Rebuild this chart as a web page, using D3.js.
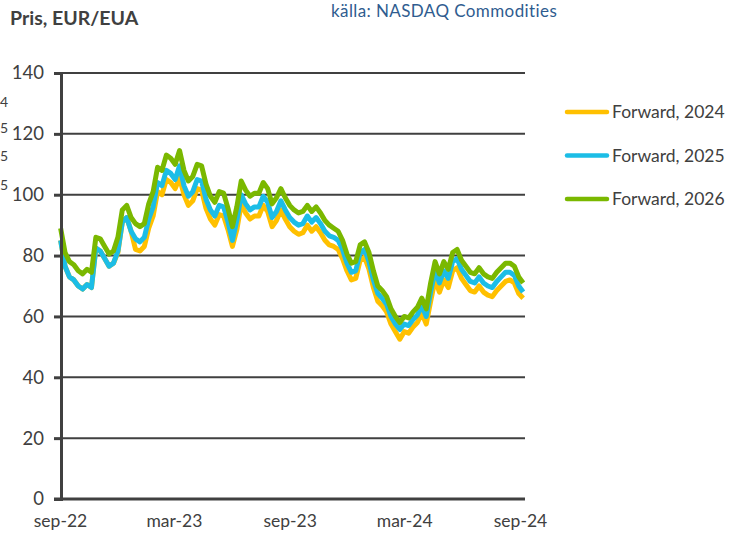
<!DOCTYPE html>
<html>
<head>
<meta charset="utf-8">
<script src="https://cdn.jsdelivr.net/npm/d3@7"></script>
<style>
  body { margin: 0; background: #fff; }
  svg { display: block; font-family: Lato, "Open Sans", sans-serif; }
</style>
</head>
<body>
<svg></svg>
<script>
const width = 734;
const height = 534;

// weekly observations, first one 2 Sep 2022
const startDate = new Date(2022, 8, 2);

const fwd2026 = [89, 81, 78, 77, 75, 74, 75.5, 74.5, 86, 85.5,
  83, 80.5, 81.5, 86, 95, 96.5, 92.5, 90.5, 89.5, 90.5,
  97, 101, 109, 108, 113, 112, 110, 114.5, 108, 104.5,
  106, 110, 109.5, 103.5, 99.5, 97.5, 101, 100.5, 95.5, 89.5,
  96, 104.5, 101.5, 99.5, 100.5, 100.5, 104, 102, 97, 99,
  102, 99, 96.5, 95, 94, 94.5, 96.5, 94.5, 96, 94,
  91.5, 90, 89, 88, 85, 80.5, 77.5, 78, 83.5, 84.5,
  81, 75, 70, 68.5, 66.5, 62.5, 60, 58, 60, 59.5,
  61.5, 63, 66, 62.5, 71, 78, 74, 78, 75.5, 81,
  82, 78.5, 76.5, 74.5, 74, 76, 74, 73, 72.5, 74.5,
  76, 77.5, 77.5, 76.5, 73, 71];

const fwd2025 = [85, 76.5, 73, 72, 70, 69, 70.5, 69.5, 82.5, 81.5,
  79, 76.5, 77.5, 81.5, 91, 92.5, 88, 85.5, 84.5, 86,
  92, 96, 104, 103, 108, 107, 105, 109.5, 103, 99.5,
  101, 105, 104.5, 98.5, 95, 93, 96.5, 96, 91, 85,
  91.5, 100, 97, 95, 96, 96, 99.5, 97.5, 92.5, 94.5,
  98, 95, 92.5, 91, 90, 90.5, 93, 91, 92.5, 90.5,
  88, 86.5, 86, 85, 82, 77.5, 74.5, 75, 81, 82,
  78, 72, 67.5, 66, 64, 60, 57.5, 55.7, 57.5, 57,
  59, 60.5, 63.5, 60, 68, 75, 71, 75, 72.5, 78,
  79, 75.5, 73.5, 71.5, 71, 73, 71, 70, 69.5, 71.5,
  73, 74.5, 74.5, 73.5, 70, 68];

const fwd2024 = [85, 76.5, 73, 72, 70, 69, 70.5, 69.5, 82.5, 81.5,
  79, 76.5, 77.5, 81, 91, 92.5, 88, 82, 81.5, 83,
  89, 93, 101, 100, 105, 104, 102, 105.5, 100, 96.5,
  98, 102, 101.5, 95.5, 92, 90, 93.5, 93, 88.5, 83,
  88.5, 97, 94, 92, 93, 93, 96.5, 94.5, 89.5, 91.5,
  95, 92, 89.5, 88, 87, 87.5, 90, 88, 89.5, 87.5,
  85, 83.5, 83, 82, 79, 75, 72, 72.5, 78.5, 79.5,
  75.5, 69.5, 65, 63.5, 61.5, 57.5, 55, 52.5, 55, 54.5,
  56.5, 58, 61, 57.5, 65, 72, 68, 72, 69.5, 75,
  76, 72.5, 70.5, 68.5, 68, 70, 68, 67, 66.5, 68.5,
  70, 71.5, 72, 71, 67.5, 66];

const seriesNames = ["Forward, 2024", "Forward, 2025", "Forward, 2026"];
const seriesColors = ["#FFC000", "#1CBDE6", "#7AB800"];

const xTickDates = [new Date(2022, 8, 1), new Date(2023, 2, 1), new Date(2023, 8, 1),
  new Date(2024, 2, 1), new Date(2024, 8, 1)];
const xTickLabels = ["sep-22", "mar-23", "sep-23", "mar-24", "sep-24"];
const yTicks = [0, 20, 40, 60, 80, 100, 120, 140];

const dates = fwd2026.map((d, i) => d3.timeWeek.offset(startDate, i));
const allSeries = [fwd2024, fwd2025, fwd2026];

const plotLeft = 61, plotRight = 525, plotTop = 73, plotBottom = 499;
const ink = "#404040";

const svg = d3.select("svg")
  .attr("width", width)
  .attr("height", height);

const xScale = d3.scaleTime()
  .domain([xTickDates[0], xTickDates[4]])
  .range([60, 520]);

const yScale = d3.scaleLinear()
  .domain([0, 140])
  .range([plotBottom, plotTop]);

// gridlines
svg.append("g")
  .selectAll("line")
  .data(yTicks.filter(d => d > 0))
  .enter()
  .append("line")
  .attr("x1", plotLeft)
  .attr("x2", plotRight)
  .attr("y1", d => yScale(d))
  .attr("y2", d => yScale(d))
  .attr("stroke", ink)
  .attr("stroke-width", 2);

// series
const line = d3.line()
  .x((d, i) => xScale(dates[i]))
  .y(d => yScale(d));

svg.append("g")
  .selectAll("path")
  .data(allSeries)
  .enter()
  .append("path")
  .attr("d", d => line(d))
  .attr("fill", "none")
  .attr("stroke", (d, i) => seriesColors[i])
  .attr("stroke-width", 5)
  .attr("stroke-linejoin", "round");

// y axis
const yAxis = d3.axisLeft(yScale)
  .tickValues(yTicks)
  .tickSize(7)
  .tickPadding(10);

const yg = svg.append("g")
  .attr("transform", `translate(${plotLeft},0)`)
  .call(yAxis);
yg.select(".domain").attr("stroke", ink).attr("stroke-width", 3);
yg.selectAll(".tick line").attr("stroke", ink).attr("stroke-width", 3);
yg.selectAll("text")
  .attr("fill", ink)
  .style("font-size", "18.5px")
  .style("font-family", "Lato, sans-serif");

// x axis
svg.append("line")
  .attr("x1", 54)
  .attr("x2", plotRight)
  .attr("y1", plotBottom)
  .attr("y2", plotBottom)
  .attr("stroke", ink)
  .attr("stroke-width", 3);

const xAxis = d3.axisBottom(xScale)
  .tickValues(xTickDates)
  .tickFormat((d, i) => xTickLabels[i])
  .tickSize(0)
  .tickPadding(16);

const xg = svg.append("g")
  .attr("transform", `translate(0,${plotBottom})`)
  .call(xAxis);
xg.select(".domain").remove();
xg.selectAll("text")
  .attr("fill", ink)
  .style("font-size", "17.5px")
  .style("font-family", "Lato, sans-serif");

// title and source
svg.append("text")
  .attr("x", 10)
  .attr("y", 25)
  .attr("fill", ink)
  .style("font-size", "19.5px")
  .style("font-weight", "bold")
  .text("Pris, EUR/EUA");

svg.append("text")
  .attr("x", 331)
  .attr("y", 17)
  .attr("fill", "#2F5C8F")
  .style("font-size", "17px")
  .style("letter-spacing", "0.4px")
  .text("källa: NASDAQ Commodities");

// clipped labels at the left edge
svg.append("g")
  .selectAll("text")
  .data(["4", "5", "5", "5"])
  .enter()
  .append("text")
  .attr("x", 0)
  .attr("y", (d, i) => [107, 133, 161, 190][i])
  .attr("fill", ink)
  .style("font-size", "14px")
  .text(d => d);

// legend
const legend = svg.append("g")
  .selectAll("g")
  .data(seriesNames)
  .enter()
  .append("g")
  .attr("transform", (d, i) => `translate(567,${112 + i * 43.5})`);

legend.append("line")
  .attr("x1", 0)
  .attr("x2", 40)
  .attr("stroke", (d, i) => seriesColors[i])
  .attr("stroke-width", 4.5)
  .attr("stroke-linecap", "round");

legend.append("text")
  .attr("x", 45)
  .attr("dy", "0.35em")
  .attr("fill", ink)
  .style("font-size", "17.5px")
  .text(d => d);
</script>
</body>
</html>
